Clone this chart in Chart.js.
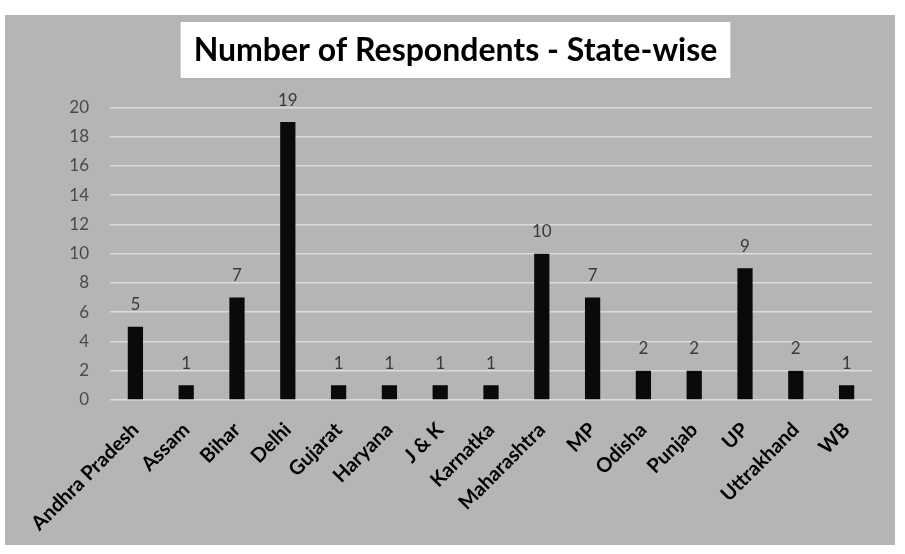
<!DOCTYPE html>
<html><head><meta charset="utf-8">
<script src="https://cdn.jsdelivr.net/npm/chart.js@4"></script>
<style>
html,body{margin:0;padding:0;background:#fff;}
#wrap{position:absolute;left:5px;top:15px;width:890px;height:530px;background:#b5b5b5;}
canvas{display:block;}
</style></head><body>
<div id="wrap"><canvas id="c" width="890" height="530"></canvas></div>
<script>
const titleText = 'Number of Respondents - State-wise';
const states = ['Andhra Pradesh','Assam','Bihar','Delhi','Gujarat','Haryana','J & K','Karnatka','Maharashtra','MP','Odisha','Punjab','UP','Uttrakhand','WB'];
const respondents = [5,1,7,19,1,1,1,1,10,7,2,2,9,2,1];
const yTickValues = [0,2,4,6,8,10,12,14,16,18,20];

const titleBox = {
  id: 'titleBox',
  afterLayout(chart) {
    const tb = chart.titleBlock;
    if (!tb) return;
    tb.left += 17;
    tb.right += 17;
  },
  beforeDraw(chart) {
    const tb = chart.titleBlock;
    if (!tb) return;
    const ctx = chart.ctx;
    ctx.save();
    ctx.font = 'bold 32px Lato';
    const w = ctx.measureText(titleText).width;
    const cx = (tb.left + tb.right) / 2;
    const cy = tb.top + 16 + 19;
    ctx.fillStyle = '#ffffff';
    ctx.fillRect(cx - w / 2 - 13, cy - 28, w + 26, 56);
    ctx.restore();
  }
};

const valueLabels = {
  id: 'valueLabels',
  afterDatasetsDraw(chart) {
    const ctx = chart.ctx;
    const meta = chart.getDatasetMeta(0);
    ctx.save();
    ctx.font = '17px Lato';
    ctx.fillStyle = '#3a3a3a';
    ctx.textAlign = 'center';
    ctx.textBaseline = 'middle';
    meta.data.forEach((bar, i) => {
      ctx.fillText(String(respondents[i]), bar.x, bar.y - 22);
    });
    ctx.restore();
  }
};

new Chart(document.getElementById('c'), {
  type: 'bar',
  data: {
    labels: states,
    datasets: [{
      data: respondents,
      backgroundColor: '#0a0a0a',
      borderWidth: 0,
      categoryPercentage: 1,
      barPercentage: 0.3
    }]
  },
  options: {
    responsive: false,
    animation: false,
    layout: { padding: { left: 0, right: 23, top: 0, bottom: 0 } },
    plugins: {
      legend: { display: false },
      tooltip: { enabled: false },
      title: {
        display: true,
        text: titleText,
        color: '#000',
        font: { family: 'Lato', size: 32, weight: 'bold', lineHeight: 1.2 },
        padding: { top: 16, bottom: 38 }
      }
    },
    scales: {
      x: {
        grid: { display: false, drawTicks: false },
        border: { display: false },
        ticks: {
          color: '#000',
          font: { family: 'Lato', size: 20, weight: 'bold' },
          maxRotation: 45, minRotation: 45,
          autoSkip: false,
          padding: 18
        },
        afterFit(scale) { scale.height = 145; scale.paddingLeft = 0; scale.paddingRight = 0; }
      },
      y: {
        min: 0, max: 20,
        grid: { color: '#dcdcdc', lineWidth: 1.5, drawTicks: false },
        border: { display: false },
        afterBuildTicks(scale) { scale.ticks = yTickValues.map(v => ({ value: v })); },
        ticks: {
          color: '#4a4a4a',
          font: { family: 'Lato', size: 17 },
          padding: 21
        },
        afterFit(scale) { scale.width = 105; }
      }
    }
  },
  plugins: [titleBox, valueLabels]
});
</script>
</body></html>
